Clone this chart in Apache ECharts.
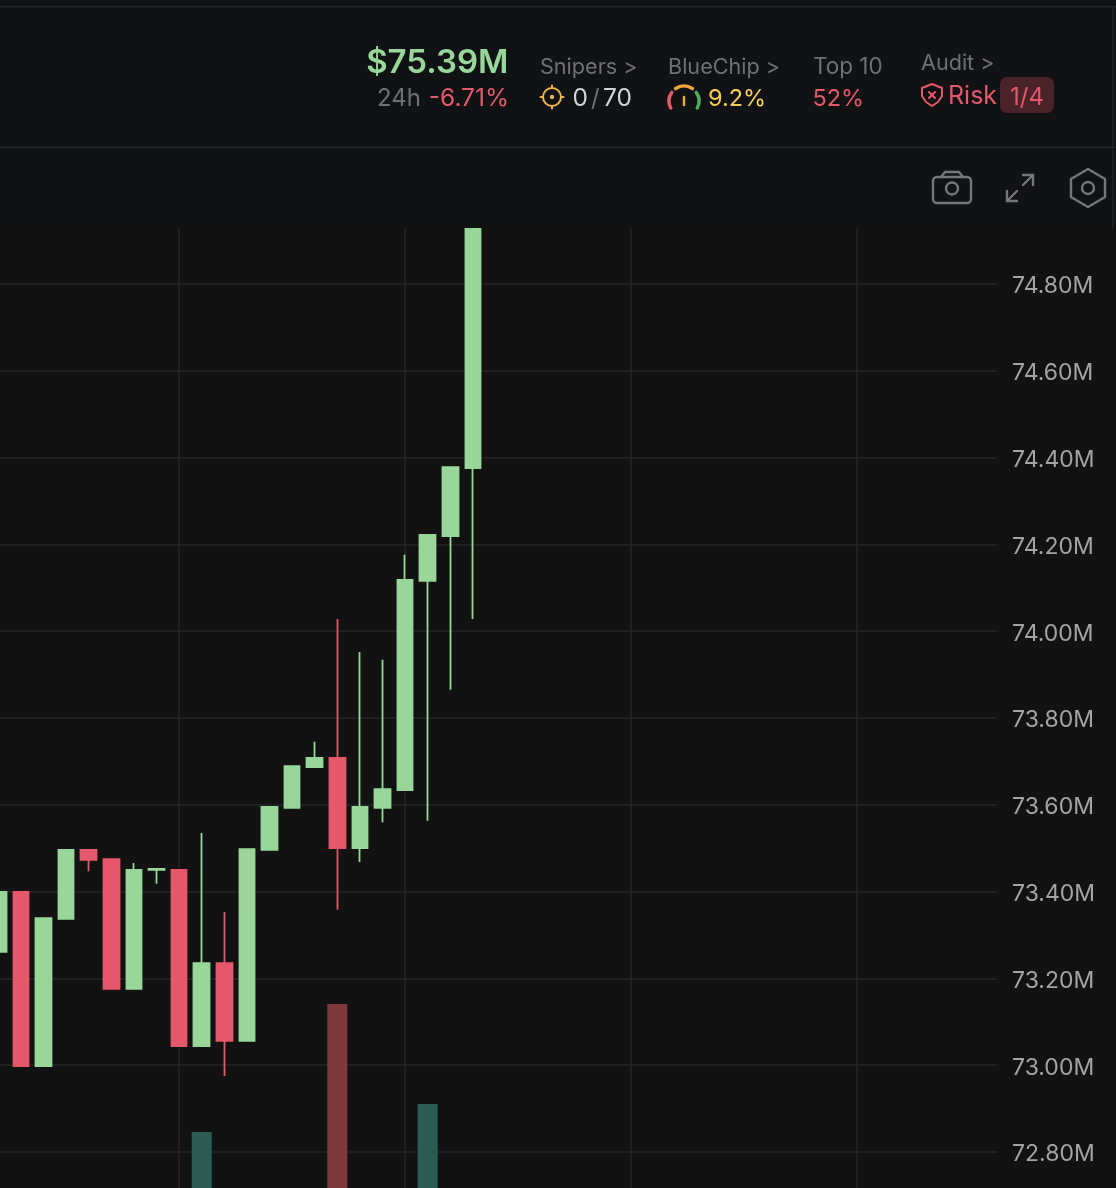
<!DOCTYPE html>
<html><head><meta charset="utf-8">
<style>html,body{margin:0;padding:0;background:#121212}#c{width:1116px;height:1188px}</style>
<script src="https://cdn.jsdelivr.net/npm/echarts@6/dist/echarts.min.js"></script>
</head><body><div id="c"></div>
<script>
// open, close, low, high (millions)
const opens =[73.261,73.399,72.998,73.337,73.496,73.475,73.176,73.450,73.450,73.044,73.235,73.056,73.496,73.593,73.687,73.708,73.500,73.593,73.634,74.116,74.219,74.376];
const closes=[73.399,72.998,73.339,73.496,73.473,73.176,73.450,73.452,73.044,73.235,73.056,73.498,73.595,73.689,73.708,73.500,73.595,73.636,74.118,74.222,74.378,75.390];
const lows  =[73.261,72.998,72.998,73.337,73.447,73.176,73.176,73.418,73.044,73.044,72.975,73.056,73.496,73.593,73.687,73.358,73.468,73.560,73.634,73.563,73.865,74.028];
const highs =[73.399,73.399,73.339,73.496,73.496,73.475,73.466,73.452,73.450,73.535,73.353,73.498,73.595,73.689,73.745,74.028,73.952,73.934,74.176,74.222,74.378,75.390];
// volumes (relative units), only the tallest bars rise into view
const volumes=[0,0,0,0,0,0,0,0,0,56,0,0,0,0,0,184,0,0,0,84,0,0];
const volumeUp=[1,0,1,1,0,0,1,1,0,1,0,1,1,1,1,0,1,1,1,1,1,1];
const priceTicks=[72.8,73.0,73.2,73.4,73.6,73.8,74.0,74.2,74.4,74.6,74.8];
const slots=45;
const categories=Array.from({length:slots},(_,i)=>'c'+i);

const UP='#98d69a',DOWN='#e5586b',GREY='#6e7074',ICON='#75777a',BG='#121212',HEAD='#111214',LINE='#25272a',ORANGE='#f0b24b';
const F='Inter';
const txt=(x,y,text,fill,size,align,weight)=>({type:'text',x,y,z:20,style:{text,fill,textAlign:align||'left',textVerticalAlign:'middle',font:(weight||400)+' '+size+'px '+F}});
const stroke=(c,w)=>({stroke:c,lineWidth:w||2,fill:'none',lineCap:'round',lineJoin:'round'});
const line=(x1,y1,x2,y2,c,w)=>({type:'line',z:20,shape:{x1,y1,x2,y2},style:stroke(c,w)});
const poly=(points,c,w)=>({type:'polyline',z:20,shape:{points},style:stroke(c,w)});
const arc=(cx,cy,r,a,b,c,w)=>({type:'arc',z:20,shape:{cx,cy,r,startAngle:a*Math.PI/180,endAngle:b*Math.PI/180,clockwise:true},style:stroke(c,w)});
const circ=(cx,cy,r,c,w)=>({type:'circle',z:20,shape:{cx,cy,r},style:stroke(c,w)});

const header=[
 {type:'rect',z:10,shape:{x:0,y:0,width:1116,height:228},style:{fill:HEAD}},
 {type:'rect',z:11,shape:{x:0,y:6,width:1116,height:1.5},style:{fill:LINE}},
 {type:'rect',z:11,shape:{x:0,y:146.5,width:1116,height:1.5},style:{fill:LINE}},
 {type:'rect',z:11,shape:{x:1112,y:7,width:1.5,height:221},style:{fill:'#1f2124'}},
 {type:'rect',z:1,shape:{x:997,y:228,width:12,height:960},style:{fill:BG}},
 txt(508.5,63.5,'$75.39M',UP,33,'right',600),
 txt(377,98.5,'24h',GREY,24),
 txt(509,98.5,'-6.71%',DOWN,24.5,'right'),
 txt(540,67,'Snipers >',GREY,21.6),
 circ(552,97,9,ORANGE,2),
 {type:'circle',z:20,shape:{cx:552,cy:97,r:2.2},style:{fill:ORANGE}},
 line(552,85.5,552,88,ORANGE,2),line(552,106,552,108.5,ORANGE,2),line(540.5,97,543,97,ORANGE,2),line(561,97,563.5,97,ORANGE,2),
 txt(572.5,98.5,'0','#d2d4d6',24.5),txt(591,98.5,'/',GREY,24),txt(603,98.5,'70','#d2d4d6',24.5),
 txt(668,67,'BlueChip >',GREY,21.6),
 arc(684,101,15,152,215,DOWN,3.5),arc(684,101,15,236,304,'#f0a83c',3.5),arc(684,101,15,325,388,'#4fae5b',3.5),
 line(684,97,684,105,'#f0a83c',2.5),
 txt(708,98.5,'9.2%','#f6cf55',23.5),
 txt(813,67,'Top 10',GREY,22.5),
 txt(812.5,98.5,'52%',DOWN,23.5),
 txt(921,63,'Audit >',GREY,21.6),
 {type:'polygon',z:20,shape:{points:[[932,84],[942,88],[942,96],[938,102],[932,106],[926,102],[922,96],[922,88]]},style:stroke(DOWN,2)},
 line(929,92,935,98,DOWN,2),line(935,92,929,98,DOWN,2),
 txt(948,96.5,'Risk',DOWN,25),
 {type:'rect',z:15,shape:{x:1000,y:77,width:54,height:36,r:7},style:{fill:'#4a2229'}},
 txt(1027,97.5,'1/4',DOWN,24,'center'),
 {type:'rect',z:20,shape:{x:933,y:177,width:38,height:26,r:4},style:stroke(ICON,2.4)},
 poly([[941,177],[945,172],[959,172],[963,177]],ICON,2.4),circ(952,188.5,6,ICON,2.4),
 poly([[1023,175],[1033,175],[1033,185]],ICON,2.4),line(1033,175,1023,185,ICON,2.4),
 poly([[1007,191],[1007,201],[1017,201]],ICON,2.4),line(1007,201,1017,191,ICON,2.4),
 {type:'polygon',z:20,shape:{points:[[1088,169],[1105,179],[1105,197],[1088,207],[1071,197],[1071,179]]},style:stroke(ICON,2.4)},
 circ(1088,188,6,ICON,2.4)
];

const chart=echarts.init(document.getElementById('c'),null,{renderer:'canvas'});
chart.setOption({
 animation:false,backgroundColor:BG,
 grid:{left:-13.0,top:228,width:1017.0,height:960,containLabel:false,outerBoundsMode:'none'},
 xAxis:{type:'category',data:categories,boundaryGap:true,axisLine:{show:false},axisTick:{show:false},axisLabel:{show:false},
  splitLine:{show:true,alignWithLabel:true,interval:i=>i%10===8,lineStyle:{color:'#252628',width:1.5}}},
 yAxis:[
  {type:'value',position:'right',min:72.717,max:74.929,scale:true,axisLine:{show:false},
   axisTick:{show:false,customValues:priceTicks},
   axisLabel:{customValues:priceTicks,margin:8,align:'left',formatter:v=>'{p|'+v.toFixed(2)+'M}',
    rich:{p:{color:'#a2a4a6',fontFamily:F,fontSize:23,padding:[5,0,0,0]}}},
   splitLine:{show:true,lineStyle:{color:'#252628',width:1.5}}},
  {type:'value',min:0,max:960,show:false,splitLine:{show:false}}
 ],
 series:[
  {type:'bar',yAxisIndex:1,barWidth:20,z:2,data:volumes.map((v,i)=>({value:v,itemStyle:{color:volumeUp[i]?'#2a5c51':'#7d393c'}}))},
  {type:'candlestick',yAxisIndex:0,barWidth:16.2,z:3,clip:true,
   itemStyle:{color:UP,color0:DOWN,borderColor:UP,borderColor0:DOWN,borderWidth:1.8},
   data:opens.map((o,i)=>[o,closes[i],lows[i],highs[i]])}
 ],
 graphic:{elements:header}
});
</script></body></html>
